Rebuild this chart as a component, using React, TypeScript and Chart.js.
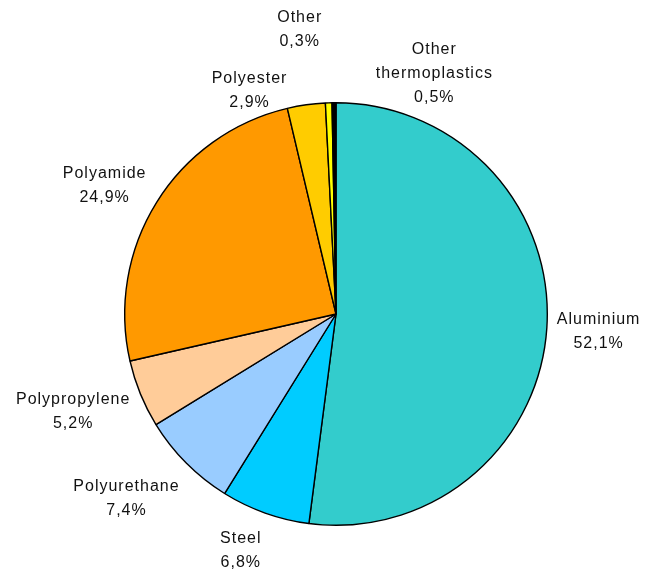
import React, { useEffect, useRef } from "react";
import { Chart, registerables } from "chart.js";

Chart.register(...registerables);

const categories = [
  "Aluminium",
  "Steel",
  "Polyurethane",
  "Polypropylene",
  "Polyamide",
  "Polyester",
  "Other thermoplastics",
  "Other",
];
const shares = [52.1, 6.8, 7.4, 5.2, 24.9, 2.9, 0.5, 0.3];
const labelLines = [
  ["Aluminium"],
  ["Steel"],
  ["Polyurethane"],
  ["Polypropylene"],
  ["Polyamide"],
  ["Polyester"],
  ["Other", "thermoplastics"],
  ["Other"],
];
const sliceColors = [
  "#33CCCC",
  "#00CCFF",
  "#99CCFF",
  "#FFCC99",
  "#FF9900",
  "#FFCC00",
  "#FFFF00",
  "#000000",
];
// small label nudges (px) emulating the spreadsheet's overlap avoidance
const labelNudge = [
  [0, 2],
  [-14, 6],
  [-15, 12],
  [-5, 5],
  [-8, 1],
  [-50, 19],
  [108, 17],
  [-34, -39],
];

const fmt = (v: number) => v.toFixed(1).replace(".", ",") + "%";

const labelPlugin = {
  id: "outerLabels",
  afterDraw(chart: any) {
    const ctx = chart.ctx;
    const meta = chart.getDatasetMeta(0);
    const lineH = 24;
    const gap = 10;
    ctx.save();
    ctx.font = "16px 'Liberation Sans', Arial, sans-serif";
    (ctx as any).letterSpacing = "1px";
    ctx.fillStyle = "#111";
    ctx.textAlign = "center";
    ctx.textBaseline = "middle";
    meta.data.forEach((arc: any, i: number) => {
      const p = arc.getProps(["x", "y", "startAngle", "endAngle", "outerRadius"], true);
      const mid = (p.startAngle + p.endAngle) / 2;
      const c = Math.cos(mid);
      const s = Math.sin(mid);
      const lines = [...labelLines[i], fmt(shares[i])];
      const w = Math.max(...lines.map((t) => ctx.measureText(t).width));
      const h = lines.length * lineH;
      const r = p.outerRadius + gap;
      const cx = p.x + r * c + (c * w) / 2 + labelNudge[i][0];
      const cy = p.y + r * s + (s * h) / 2 + labelNudge[i][1];
      lines.forEach((t, k) => {
        ctx.fillText(t, cx, cy - h / 2 + lineH / 2 + k * lineH);
      });
    });
    ctx.restore();
  },
};

export default function App() {
  const ref = useRef<HTMLCanvasElement>(null);
  useEffect(() => {
    document.body.style.margin = "0";
    if (!ref.current) return;
    const chart = new Chart(ref.current, {
      type: "pie",
      data: {
        labels: categories,
        datasets: [
          {
            data: shares,
            backgroundColor: sliceColors,
            borderColor: "#000",
            borderWidth: 1.4,
          },
        ],
      },
      options: {
        responsive: false,
        animation: false,
        layout: { padding: { top: 102, bottom: 45, left: 124, right: 109 } },
        plugins: {
          legend: { display: false },
          tooltip: { enabled: false },
        },
      },
      plugins: [labelPlugin],
    });
    return () => chart.destroy();
  }, []);
  return (
    <div style={{ width: 657, height: 571, background: "#fff" }}>
      <canvas ref={ref} width={657} height={571} />
    </div>
  );
}
